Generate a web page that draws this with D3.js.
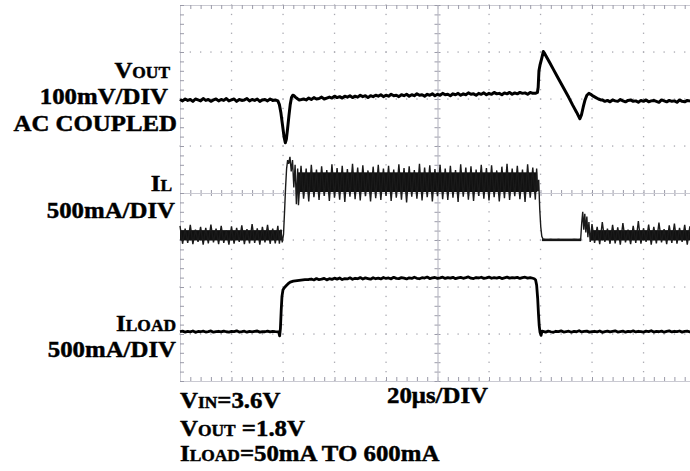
<!DOCTYPE html>
<html><head><meta charset="utf-8">
<script src="https://cdn.jsdelivr.net/npm/d3@7"></script>
<style>body{margin:0;background:#fff}svg{display:block}text{font-family:"Liberation Serif","Times New Roman",serif;font-weight:bold;fill:#000;stroke:#000;stroke-width:0.45px}</style>
</head><body><svg id="c" width="690" height="471"></svg>
<script>
// ---------------- DATA (time in µs, 20 µs/div) ----------------
// VOUT, AC coupled, mV
const voutPre = [-1,-4,0,-3,-1,-5,0,-2,-4,1, -3,-1,-5,-2,0,-4,-1,-3,1,-4, -2,0,-5,-1,-3,-2,1,-4,-1,-3, 0,-5,-2,-1,-4,0,-3,-2]; // t = 0..37
const voutDip = [[38,-4],[38.6,-12],[39.2,-30],[39.8,-55],[40.4,-80],[40.9,-93],[41.3,-86],[41.8,-62],[42.3,-36],[42.8,-12],[43.3,3],[43.8,8],[44.3,7],[44.8,4],[45.5,1],[46.3,-2],[47.2,-1]];
const voutMid = [0,-2,2,-1,3,0,1,4,0,2, 4,2,6,3,5,2,6,4,7,3, 6,4,8,5,7,3,7,5,8,6, 9,5,8,6,10,7,8,5,9,7, 10,6,9,7,11,8,9,6,10,8, 11,7,10,8,12,9,10,7,11,9, 12,8,11,9,13,10,11,8,12,10, 13,9,12,10,14,11,12,9,13,11, 14,10,13,11,14,12,13,10,14,12]; // t = 48..137
const voutSpike = [[138,12],[138.8,14],[139.1,25],[139.4,60],[139.8,72],[140.4,85],[141.1,101],[141.6,97],[142.3,90],[143.5,78],[145,63],[146.5,48],[148,33],[149.5,18],[151,3],[152.5,-13],[154,-28],[155.3,-42],[155.9,-34],[156.6,-17],[157.3,-2],[158,8],[158.8,12],[159.5,10],[160.5,6],[161.5,3],[162.5,0],[163.4,-2]];
const voutPost = [-2,-5,-3,-6,-2,-4,-5,-1,-4,-6, -3,-2,-5,-4,-7,-3,-5,-2,-6,-4, -3,-5,-7,-2,-4,-6,-3,-5,-4,-7, -2,-5,-6,-3,-4,-6,-5]; // t = 164..200

// IL, mA
const ilPre = [150,-40,120,-30,160,-45,110,-20,140,-50, 130,-35,165,-25,120,-45,150,-30,100,-50, 145,-40,130,-20,155,-45,115,-35,170,-30, 125,-50,140,-25,160,-40,120,-35,150]; // t = 0..38
const ilRise = [[38.6,-40],[39.2,110],[39.7,-25],[40.2,60],[40.6,300],[41,560],[41.4,760],[41.8,850],[42.2,810],[42.7,885],[43.2,730],[43.7,850],[44.2,560],[44.7,800],[45.2,380],[45.7,760]];
const ilHigh = [370,790,440,760,410,800,455,750,425,785, 470,745,415,805,450,765,430,790,405,755, 460,810,435,770,420,795,465,740,410,780, 445,800,425,760,470,790,415,750,450,805, 430,765,400,785,460,745,440,810,420,770, 455,795,410,755,465,800,435,760,425,790, 450,745,405,805,460,770,430,785,415,750, 470,800,440,765,420,795,455,740,410,780, 445,810,425,760,465,790,435,750,405,805, 450,770,430]; // t = 46..138
const ilFall = [[138.5,760],[138.9,520],[139.3,640],[139.7,330],[140.1,140],[140.5,40],[141,8],[142.5,0],[144,6],[145.5,1],[147,5],[148.5,0],[150,4],[151.5,1],[153,6],[154.5,2],[155.6,8],[156,180],[156.4,300],[156.8,110],[157.2,280],[157.6,80],[158,250],[158.4,30],[158.8,190],[159.3,-20]];
const ilPost = [170,-30,140,-45,190,-20,120,-40,160,-35, 135,-50,180,-25,110,-45,150,-30,200,-40, 125,-20,165,-50,140,-35,185,-25,115,-45, 155,-30,175,-40,130,-20,160,-50,145,-35, 170]; // t = 160..200
// dense core of the trace band (switching ripple and the idle flat)
const ilCoreStart = [0, 45.5, 140.6, 159.5];
const ilCoreEnd   = [39.6, 138.7, 155.8, 200];
const ilCoreHi    = [105, 720, 15, 105];
const ilCoreLo    = [-5, 510, -12, -5];

// ILOAD, mA
const iloadPre = [25,30,20,28,22,32,18,27,24,30, 21,26,33,19,25,29,22,31,24,20, 28,26,34,21,25,30,19,27,23,29, 32,20,26,24,31,22,28,25]; // t = 0..37
const iloadRise = [[38.3,22],[38.7,-20],[39,60],[39.3,250],[39.6,400],[40,470],[40.6,495],[41.3,515],[42,535],[42.8,552],[44,562],[45.5,568],[47,574],[48.5,578],[50,580]];
const iloadHigh = [585,575,590,578,583,592,576,588,581,594, 584,596,579,590,586,598,582,593,588,600, 585,597,590,583,599,588,594,586,601,591, 596,587,603,592,589,600,594,586,598,591, 604,593,588,599,595,606,590,597,601,592, 598,605,591,600,594,603,589,597,602,593, 599,607,594,590,601,596,604,592,598,606, 593,600,595,603,590,598,605,594,600,596, 602,591,599,604,595,600,593]; // t = 51..137
const iloadFall = [[137.6,588],[138.1,575],[138.5,520],[138.9,380],[139.2,220],[139.5,90],[139.8,20],[140.2,-15],[140.6,30]];
const iloadPost = [27,20,31,24,18,29,25,33,21,26, 30,19,28,24,35,22,27,31,20,26, 29,23,32,18,25,30,22,28,34,21, 26,31,19,27,24,33,22,29,25,20, 30,26,35,21,28,24,31,19,27,33, 22,29,25,32,20,27,30,23,28,24]; // t = 141..200

// ---------------- BUILD ----------------
const seq = (arr, t0) => arr.map((v, i) => [t0 + i, v]);
const vout  = [...seq(voutPre,0), ...voutDip, ...seq(voutMid,48), ...voutSpike, ...seq(voutPost,164)];
const il    = [...seq(ilPre,0), ...ilRise, ...seq(ilHigh,46), ...ilFall, ...seq(ilPost,160)];
const iload = [...seq(iloadPre,0), ...iloadRise, ...seq(iloadHigh,51), ...iloadFall, ...seq(iloadPost,141)];

const svg = d3.select("#c");
const x = d3.scaleLinear().domain([0, 200]).range([180, 695]);
const y = d3.scaleLinear().domain([-4, 4]).range([381, 5]);   // divisions
const yV  = v => y(2 + v / 100);   // 100 mV/div, ref at +2 div
const yIL = v => y(-1 + v / 500);  // 500 mA/div, ref at -1 div
const yLd = v => y(-3 + v / 500);  // 500 mA/div, ref at -3 div

// ---- graticule ----
const g = svg.append("g");
const minorT = d3.range(0, 200.001, 4);
const minorD = d3.range(-4, 4.001, 0.2);
const majorT = d3.range(20, 200, 20).filter(t => t !== 100);
const majorD = d3.range(-3, 4, 1).filter(d => d !== 0);
majorT.forEach(t => {
  g.append("g").selectAll("rect").data(minorD).join("rect")
    .attr("x", x(t) - 0.6).attr("y", d => y(d) - 0.6).attr("width", 1.3).attr("height", 1.3).attr("fill", "#a8a8b0");
});
majorD.forEach(d => {
  g.append("g").selectAll("rect").data(minorT).join("rect")
    .attr("x", t => x(t) - 0.6).attr("y", y(d) - 0.6).attr("width", 1.3).attr("height", 1.3).attr("fill", "#a8a8b0");
});
function styleAx(sel) {
  sel.selectAll("path").attr("stroke", "#cacad2").attr("stroke-width", 1);
  sel.selectAll("line").attr("stroke", "#9a9aa8").attr("stroke-width", 1);
  sel.selectAll("text").remove();
}
const ax = (axis, tr) => g.append("g").attr("transform", tr).call(axis).call(styleAx);
ax(d3.axisBottom(x).tickValues(minorT).tickSize(4).tickSizeOuter(0).tickFormat(""), `translate(0,${y(4)})`);
ax(d3.axisTop(x).tickValues(minorT).tickSize(4).tickSizeOuter(0).tickFormat(""), `translate(0,${y(-4)})`);
ax(d3.axisBottom(x).tickValues(minorT).tickSize(3).tickSizeOuter(0).tickFormat(""), `translate(0,${y(0)})`);
ax(d3.axisTop(x).tickValues(minorT).tickSize(3).tickSizeOuter(0).tickFormat(""), `translate(0,${y(0)})`);
ax(d3.axisRight(y).tickValues(minorD).tickSize(4).tickSizeOuter(0).tickFormat(""), `translate(${x(0)},0)`);
ax(d3.axisRight(y).tickValues(minorD).tickSize(3).tickSizeOuter(0).tickFormat(""), `translate(${x(100)},0)`);
ax(d3.axisLeft(y).tickValues(minorD).tickSize(3).tickSizeOuter(0).tickFormat(""), `translate(${x(100)},0)`);

// ---- traces ----
const tr = svg.append("g");
tr.selectAll("rect.core").data(ilCoreStart).join("rect").attr("class", "core")
  .attr("x", (d, i) => x(d)).attr("width", (d, i) => x(ilCoreEnd[i]) - x(d))
  .attr("y", (d, i) => yIL(ilCoreHi[i])).attr("height", (d, i) => yIL(ilCoreLo[i]) - yIL(ilCoreHi[i]))
  .attr("fill", "#111");
tr.append("path").datum(il).attr("fill", "none").attr("stroke", "#1a1a1a").attr("stroke-width", 1.4)
  .attr("d", d3.line().x(d => x(d[0])).y(d => yIL(d[1])));
tr.append("path").datum(vout).attr("fill", "none").attr("stroke", "#000").attr("stroke-width", 3).attr("stroke-linejoin", "round")
  .attr("d", d3.line().x(d => x(d[0])).y(d => yV(d[1])));
tr.append("path").datum(iload).attr("fill", "none").attr("stroke", "#000").attr("stroke-width", 2.8).attr("stroke-linejoin", "round")
  .attr("d", d3.line().x(d => x(d[0])).y(d => yLd(d[1])));

// ---- labels ----
const FS = 23, SX = 1.08;
function label(parts, px, py, anchor) {
  const t = svg.append("text").attr("transform", `translate(${px},${py}) scale(${SX},1)`)
    .attr("text-anchor", anchor).attr("font-size", FS);
  parts.forEach(p => t.append("tspan").attr("font-size", p[1] ? FS * 0.7 : FS).text(p[0]));
}
label([["V"],["OUT",1]], 170, 78, "end");
label([["100mV/DIV"]], 168, 104, "end");
label([["AC COUPLED"]], 177, 131, "end");
label([["I"],["L",1]], 172, 191, "end");
label([["500mA/DIV"]], 175, 218, "end");
label([["I"],["LOAD",1]], 176, 331, "end");
label([["500mA/DIV"]], 176, 357, "end");
label([["V"],["IN",1],["=3.6V"]], 180, 408, "start");
label([["V"],["OUT",1],[" =1.8V"]], 180, 436, "start");
label([["I"],["LOAD",1],["=50mA TO 600mA"]], 180, 461, "start");
label([["20μs/DIV"]], 387, 403, "start");
</script></body></html>
